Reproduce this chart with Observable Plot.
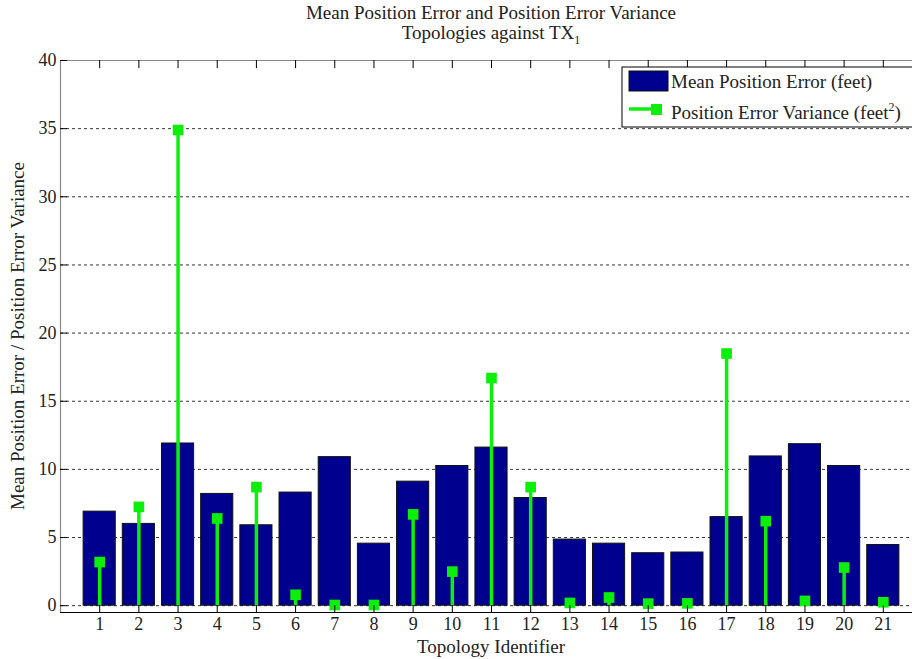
<!DOCTYPE html>
<html>
<head>
<meta charset="utf-8">
<script src="https://cdn.jsdelivr.net/npm/d3@7"></script>
<script src="https://cdn.jsdelivr.net/npm/@observablehq/plot@0.6"></script>
<style>
  html, body { margin: 0; padding: 0; background: white; overflow: hidden; }
  svg { display: block; }
</style>
</head>
<body>
<div id="chart"></div>
<script>
const topologies = [1,2,3,4,5,6,7,8,9,10,11,12,13,14,15,16,17,18,19,20,21];
const meanError = [6.9,6.0,11.9,8.2,5.9,8.3,10.9,4.55,9.1,10.25,11.6,7.9,4.85,4.55,3.85,3.9,6.5,10.95,11.85,10.25,4.45];
const errorVariance = [3.2,7.25,34.9,6.4,8.7,0.8,0.05,0.05,6.7,2.5,16.7,8.7,0.2,0.6,0.15,0.17,18.5,6.2,0.35,2.8,0.25];
const yTicks = [0,5,10,15,20,25,30,35,40];
const gridValues = [0,5,10,15,20,25,30,35];

const data = topologies.map((t, i) => ({id: t, mean: meanError[i], variance: errorVariance[i]}));

const NAVY = "#00008F";
const GREEN = "#0BEF0B";
const FONT = "'Liberation Serif', 'DejaVu Serif', serif";
const FS = 19;

const plot = Plot.plot({
  width: 912,
  height: 659,
  marginTop: 60,
  marginLeft: 60,
  marginRight: -10,
  marginBottom: 47,
  style: {fontFamily: FONT, fontSize: "18px", color: "#222", background: "white"},
  x: {domain: [0, 22], axis: null},
  y: {domain: [-0.5, 40], axis: null},
  marks: [
    Plot.ruleY(gridValues, {stroke: "black", strokeWidth: 0.8, strokeDasharray: "3,3"}),
    Plot.rectY(data, {x1: d => d.id - 0.41, x2: d => d.id + 0.41, y1: 0, y2: "mean", fill: NAVY, stroke: "#111", strokeWidth: 1}),
    Plot.ruleX(data, {x: "id", y1: 0, y2: "variance", stroke: GREEN, strokeWidth: 3.5}),
    Plot.dot(data, {x: "id", y: "variance", symbol: "square", r: 6, fill: GREEN, stroke: null}),
    // frame
    Plot.ruleX([0], {y1: -0.5, y2: 40, stroke: "#888", strokeWidth: 1.2}),
    Plot.ruleY([40], {stroke: "#888", strokeWidth: 1.2}),
    Plot.ruleY([-0.5], {stroke: "black", strokeWidth: 1.2}),
    // inward ticks
    Plot.ruleX(topologies, {x: d => d, y1: 40, y2: 39.4, stroke: "black", strokeWidth: 1}),
    Plot.ruleX(topologies, {x: d => d, y1: -0.5, y2: 0, stroke: "black", strokeWidth: 1}),
    Plot.ruleY(yTicks, {y: d => d, x1: 0, x2: 0.18, stroke: "black", strokeWidth: 1}),
    // tick labels
    Plot.axisY(yTicks, {anchor: "left", tickSize: 0, tickPadding: 4, label: null, fill: "#222"}),
    Plot.axisX(topologies, {anchor: "bottom", tickSize: 0, tickPadding: 5, label: null, fill: "#222"})
  ]
});

document.getElementById("chart").appendChild(plot);

const svg = d3.select(plot);
const cx = 491;
const txt = (sel) => sel.attr("font-family", FONT).attr("font-size", FS).attr("fill", "#222");

txt(svg.append("text").attr("x", cx).attr("y", 19).attr("text-anchor", "middle"))
  .text("Mean Position Error and Position Error Variance");
const t2 = txt(svg.append("text").attr("x", cx).attr("y", 39).attr("text-anchor", "middle"));
t2.append("tspan").text("Topologies against TX");
t2.append("tspan").attr("dy", 5).attr("font-size", 12).text("1");

txt(svg.append("text").attr("x", cx).attr("y", 653).attr("text-anchor", "middle"))
  .text("Topology Identifier");

txt(svg.append("text").attr("transform", "translate(24,336) rotate(-90)").attr("text-anchor", "middle"))
  .text("Mean Position Error / Position Error Variance");

// legend
const lg = svg.append("g").attr("text-anchor", "start");
lg.append("rect").attr("x", 622).attr("y", 67).attr("width", 320).attr("height", 60)
  .attr("fill", "white").attr("stroke", "black").attr("stroke-width", 1);
lg.append("rect").attr("x", 629).attr("y", 71).attr("width", 39).attr("height", 20)
  .attr("fill", NAVY).attr("stroke", "#111").attr("stroke-width", 1);
txt(lg.append("text").attr("x", 671).attr("y", 88).attr("text-anchor", "start"))
  .text("Mean Position Error (feet)");
lg.append("line").attr("x1", 629).attr("x2", 656).attr("y1", 109).attr("y2", 109)
  .attr("stroke", GREEN).attr("stroke-width", 3.5);
lg.append("rect").attr("x", 651).attr("y", 104).attr("width", 11).attr("height", 11).attr("fill", GREEN);
const lt = txt(lg.append("text").attr("x", 671).attr("y", 119).attr("text-anchor", "start"));
lt.append("tspan").text("Position Error Variance (feet");
lt.append("tspan").attr("dy", -8).attr("font-size", 12).text("2");
lt.append("tspan").attr("dy", 8).text(")");
</script>
</body>
</html>
